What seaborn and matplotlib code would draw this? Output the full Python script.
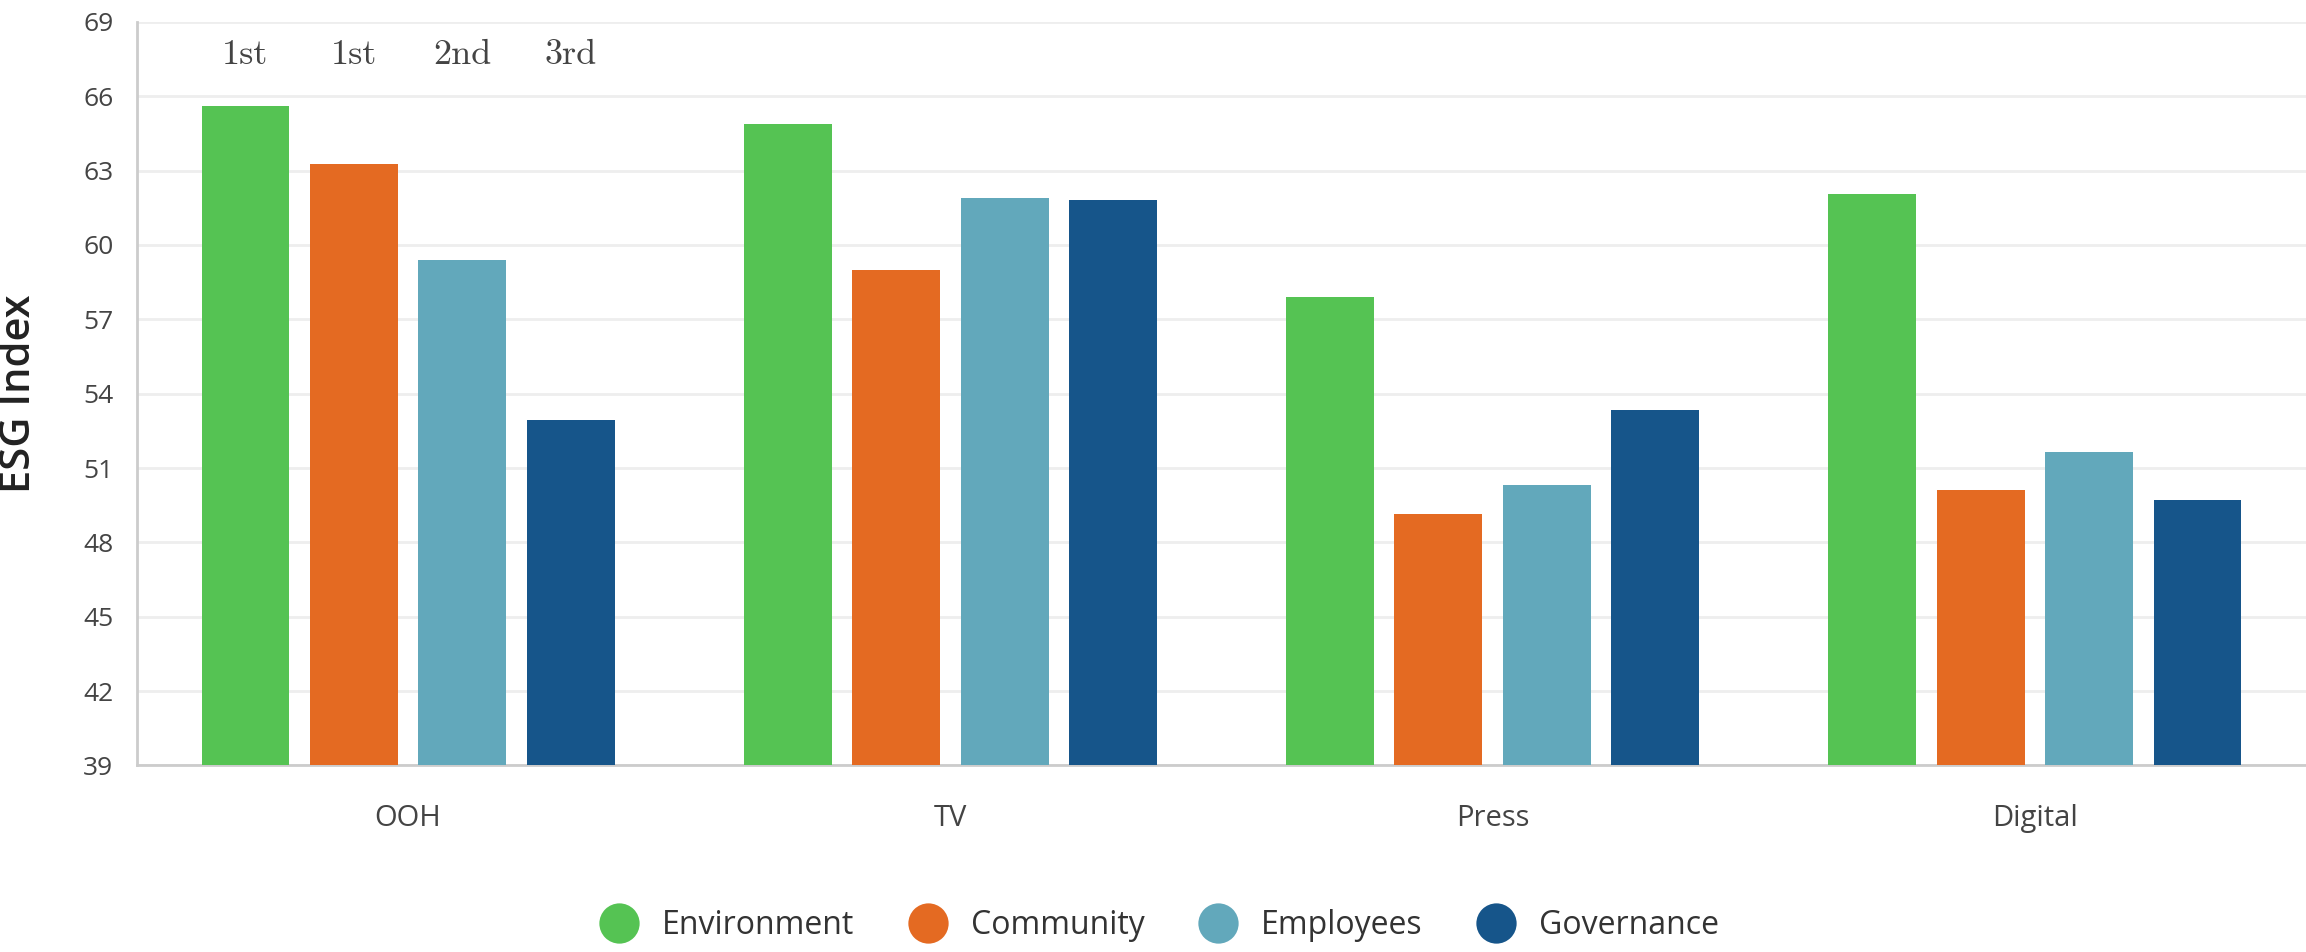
import matplotlib
matplotlib.use("Agg")
import matplotlib.pyplot as plt
import seaborn as sns
import pandas as pd
from matplotlib.lines import Line2D

# ---- data ----
channels = ["OOH", "TV", "Press", "Digital"]
pillars = ["Environment", "Community", "Employees", "Governance"]
environment = [65.6, 64.9, 57.9, 62.05]
community = [63.25, 59.0, 49.15, 50.1]
employees = [59.4, 61.9, 50.3, 51.65]
governance = [52.95, 61.8, 53.35, 49.7]
ooh_ranks = ["1st", "1st", "2nd", "3rd"]
y_ticks = [39, 42, 45, 48, 51, 54, 57, 60, 63, 66, 69]
colors = ["#55C353", "#E46A22", "#62A8BB", "#16558A"]

series = {"Environment": environment, "Community": community,
          "Employees": employees, "Governance": governance}
rows = []
for p in pillars:
    for c, v in zip(channels, series[p]):
        rows.append({"channel": c, "pillar": p, "value": v})
df = pd.DataFrame(rows)

sns.set_theme(style="white")
plt.rcParams["font.family"] = ["Open Sans", "DejaVu Sans"]

fig = plt.figure(figsize=(23.06, 9.52), dpi=100)
ax = fig.add_axes([0.0594, 0.196, 0.9406, 0.781])

sns.barplot(data=df, x="channel", y="value", hue="pillar", order=channels,
            hue_order=pillars, palette=colors, saturation=1, width=0.8,
            gap=0.19, legend=False, ax=ax, linewidth=0, zorder=3)

ax.set_ylim(39, 69)
ax.set_yticks(y_ticks)
ax.set_yticklabels([str(t) for t in y_ticks], fontsize=19, color="#444444")
ax.tick_params(axis="y", length=0, pad=17)
ax.tick_params(axis="x", length=0, pad=28, labelsize=21, labelcolor="#444444")
ax.set_xlabel("")
ax.set_ylabel("ESG Index", fontsize=30, color="#222222", fontweight="semibold")
ax.yaxis.set_label_coords(-0.0445, 0.5)

ax.grid(axis="y", color="#eeeeee", linewidth=2, zorder=0)
ax.set_axisbelow(True)
for s in ["top", "right"]:
    ax.spines[s].set_visible(False)
for s in ["left", "bottom"]:
    ax.spines[s].set_color("#cccccc")
    ax.spines[s].set_linewidth(2)

# rank annotations above the OOH bars
for i, lab in enumerate(ooh_ranks):
    bar = ax.containers[i][0]
    xc = bar.get_x() + bar.get_width() / 2
    ax.text(xc, 67.65, lab, ha="center", va="center", fontsize=26,
            family="cmr10", color="#444444")

handles = [Line2D([0], [0], marker="o", linestyle="none", markersize=29,
                  markerfacecolor=c, markeredgewidth=0) for c in colors]
fig.legend(handles, pillars, loc="center", bbox_to_anchor=(0.5, 0.028),
           ncol=4, frameon=False, fontsize=23, handletextpad=0.35,
           columnspacing=1.3, labelcolor="#333333")

fig.savefig("out.png", dpi=100)
